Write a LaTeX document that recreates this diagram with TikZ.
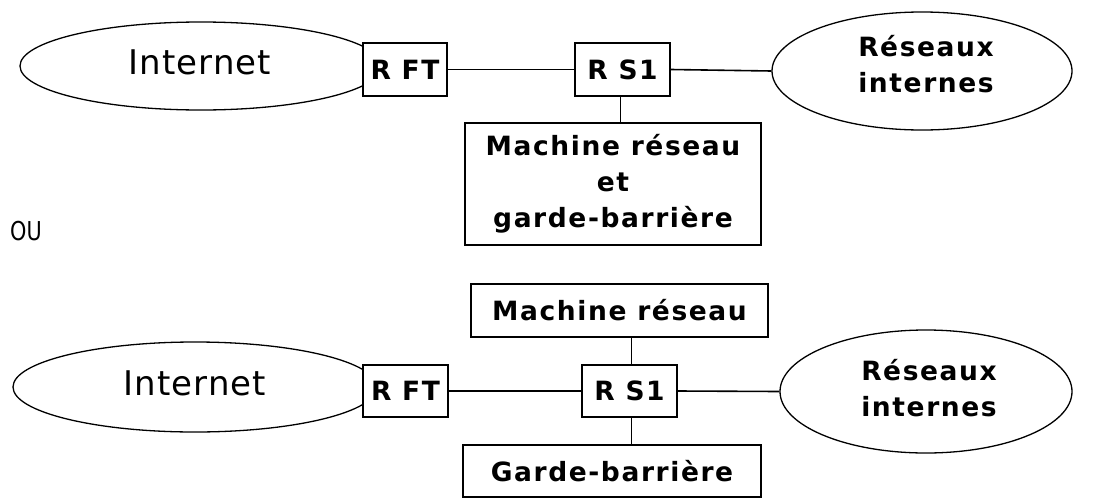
\documentclass[tikz,border=0pt]{standalone}
\usepackage{fontspec}
\setmainfont{DejaVu Sans}
\newfontfamily\boxfont[LetterSpace=6]{DejaVu Sans Bold}
\newfontfamily\netfont[LetterSpace=3]{DejaVu Sans}
\usetikzlibrary{shapes.geometric}
\begin{document}
\begin{tikzpicture}[x=1pt,y=-1pt,
  cloud/.style={draw,ellipse,line width=1.3pt,inner sep=0pt},
  box/.style={draw,fill=white,rectangle,line width=1.6pt,inner sep=0pt,font=\fontsize{26.5}{36}\boxfont,align=center},
  cloudtext/.style={font=\fontsize{26.5}{36}\boxfont,align=center},
  nettext/.style={font=\fontsize{34}{36}\netfont},
  link/.style={line width=1.6pt}]
\useasboundingbox (0,0) rectangle (1097,498);
% top diagram
\node[cloud,minimum width=362pt,minimum height=88pt] (inet1) at (201,66) {};
\node[nettext] (inet1t) at (200,62) {Internet};
\node[cloud,minimum width=300pt,minimum height=118pt] (res1) at (922,71) {};
\node[cloudtext] (res1t) at (926,64) {Réseaux\\internes};
\node[box,minimum width=84pt,minimum height=53pt] (rft1) at (405,69.5) {R FT};
\node[box,minimum width=95pt,minimum height=53pt] (rs1) at (622.5,69.5) {R S1};
\node[box,minimum width=296pt,minimum height=122pt] (mach1) at (613,184) {Machine réseau\\et\\garde-barrière};
\draw[link] (rft1.east) -- (rs1.west);
\draw[link] (rs1.east) -- (res1.west);
\draw[link] ([xshift=-2pt]rs1.south) -- ([xshift=-2pt]rs1.south |- mach1.north);
\node[font=\fontsize{26}{28}\selectfont] (ou) at (26,231) {\scalebox{0.8}[1]{OU}};
% bottom diagram
\node[cloud,minimum width=364pt,minimum height=90pt] (inet2) at (195,387) {};
\node[nettext] (inet2t) at (195,383) {Internet};
\node[cloud,minimum width=292pt,minimum height=123pt] (res2) at (926,391.5) {};
\node[cloudtext] (res2t) at (929,388) {Réseaux\\internes};
\node[box,minimum width=85pt,minimum height=52pt] (rft2) at (405.5,391) {R FT};
\node[box,minimum width=95pt,minimum height=52pt] (rs2) at (629.5,391) {R S1};
\node[box,minimum width=297pt,minimum height=53pt] (mach2) at (619.5,310.5) {Machine réseau};
\node[box,minimum width=298pt,minimum height=52pt] (garde2) at (612,471) {Garde-barrière};
\draw[link] (rft2.east) -- (rs2.west);
\draw[link] (rs2.east) -- (res2.west);
\draw[link] ([xshift=2pt]rs2.north) -- ([xshift=2pt]rs2.north |- mach2.south);
\draw[link] ([xshift=2pt]rs2.south) -- ([xshift=2pt]rs2.south |- garde2.north);
\end{tikzpicture}
\end{document}
